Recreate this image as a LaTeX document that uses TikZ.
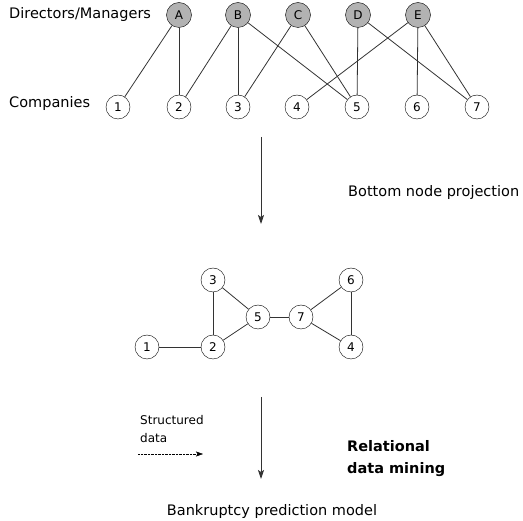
\documentclass[tikz,border=0pt]{standalone}
\usepackage{fontspec}
\setmainfont{DejaVu Sans}
\usetikzlibrary{arrows.meta,positioning}

\tikzset{
  director/.style={circle,draw,fill=gray!60,minimum size=25pt,inner sep=0pt,font=\fontsize{12}{14}\selectfont},
  company/.style={circle,draw,fill=white,minimum size=24pt,inner sep=0pt,font=\fontsize{12}{14}\selectfont},
  lbl/.style={font=\fontsize{14.5}{17}\selectfont,inner sep=0pt},
  link/.style={draw=black!80,line width=0.8pt}
}

\begin{document}
\begin{tikzpicture}[x=1pt,y=-1pt]
\useasboundingbox (0,0) rectangle (523,521);
% bipartite network
\node[lbl,anchor=west] (dm) at (9,15) {Directors/Managers};
\node[lbl,anchor=west] (co) at (9,104) {Companies};
\foreach \n/\x in {A/179,B/238,C/298,D/358,E/418}
  \node[director] (\n) at (\x,15) {\n};
\foreach \n/\x in {1/118,2/179,3/238,4/297,5/357,6/417,7/477}
  \node[company] (c\n) at (\x,107) {\n};
\foreach \a/\b in {A/1,A/2,B/2,B/3,B/5,C/3,C/5,D/5,D/7,E/4,E/6,E/7}
  \draw[link] (\a) -- (c\b);
% projection
\coordinate (p1) at (261,137);
\coordinate (p2) at (261,224);
\draw[link,-{Stealth[length=9pt,width=6pt,inset=2pt]}] (p1) -- (p2);
\node[lbl,anchor=west] (proj) at (348,193) {Bottom node projection};
% one-mode network
\node[company] (q1) at (147,347) {1};
\node[company] (q2) at (213,347) {2};
\node[company] (q3) at (213,280) {3};
\node[company] (q5) at (258,317) {5};
\node[company] (q7) at (301,317) {7};
\node[company] (q6) at (351,280) {6};
\node[company] (q4) at (351,347) {4};
\foreach \a/\b in {1/2,2/3,3/5,2/5,5/7,7/6,7/4,6/4}
  \draw[link] (q\a) -- (q\b);
% mining
\coordinate (m1) at (261,397);
\coordinate (m2) at (261,479);
\draw[link,-{Stealth[length=9pt,width=6pt,inset=2pt]}] (m1) -- (m2);
\node[font=\fontsize{12}{18}\selectfont,align=left,anchor=west,inner sep=0pt] (sd) at (140,429) {Structured\\data};
\coordinate (s1) at (138,454);
\coordinate (s2) at (203,454);
\draw[densely dotted,-{Stealth[length=7pt,width=5pt,inset=1.5pt]}] (s1) -- (s2);
\node[font=\bfseries\fontsize{14.5}{22}\selectfont,align=left,anchor=west,inner sep=0pt] (rdm) at (347,459) {Relational\\data mining};
\node[lbl] (bpm) at (272,512) {Bankruptcy prediction model};
\end{tikzpicture}
\end{document}
